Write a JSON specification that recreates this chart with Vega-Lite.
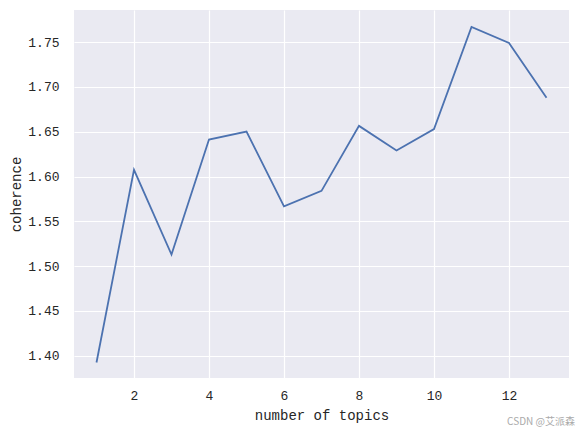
{
  "$schema": "https://vega.github.io/schema/vega-lite/v6.json",
  "autosize": "none",
  "width": 495,
  "height": 368,
  "padding": {"left": 74, "top": 10, "right": 10, "bottom": 56},
  "background": "white",
  "config": {
    "view": {"fill": "#EAEAF2", "stroke": null},
    "axis": {
      "domain": false,
      "ticks": false,
      "tickSize": 0,
      "gridColor": "white",
      "gridWidth": 1.2,
      "gridOpacity": 1,
      "labelFont": "Liberation Mono",
      "labelFontSize": 13,
      "labelColor": "#262626",
      "titleFont": "Liberation Mono",
      "titleFontSize": 14,
      "titleFontWeight": "normal",
      "titleColor": "#262626"
    }
  },
  "title": {
    "text": "CSDN @艾派森",
    "orient": "bottom",
    "anchor": "end",
    "font": "Noto Sans CJK SC",
    "fontSize": 10,
    "fontWeight": "normal",
    "color": "#aaaaaa",
    "offset": -5,
    "dx": 6
  },
  "data": {
    "values": [
      {"topics": 1, "coherence": 1.3925},
      {"topics": 2, "coherence": 1.6075},
      {"topics": 3, "coherence": 1.513},
      {"topics": 4, "coherence": 1.6413},
      {"topics": 5, "coherence": 1.6502},
      {"topics": 6, "coherence": 1.5668},
      {"topics": 7, "coherence": 1.5840},
      {"topics": 8, "coherence": 1.6565},
      {"topics": 9, "coherence": 1.6290},
      {"topics": 10, "coherence": 1.6530},
      {"topics": 11, "coherence": 1.7670},
      {"topics": 12, "coherence": 1.7490},
      {"topics": 13, "coherence": 1.6880}
    ]
  },
  "mark": {"type": "line", "color": "#4C72B0", "strokeWidth": 1.8},
  "encoding": {
    "x": {
      "field": "topics",
      "type": "quantitative",
      "title": "number of topics",
      "scale": {"domain": [0.4, 13.6], "nice": false, "zero": false},
      "axis": {"values": [2, 4, 6, 8, 10, 12], "labelPadding": 11, "titlePadding": 6}
    },
    "y": {
      "field": "coherence",
      "type": "quantitative",
      "title": "coherence",
      "scale": {"domain": [1.3752, 1.7858], "nice": false, "zero": false},
      "axis": {"values": [1.4, 1.45, 1.5, 1.55, 1.6, 1.65, 1.7, 1.75], "format": ".2f", "labelPadding": 15, "titlePadding": 4}
    }
  }
}
